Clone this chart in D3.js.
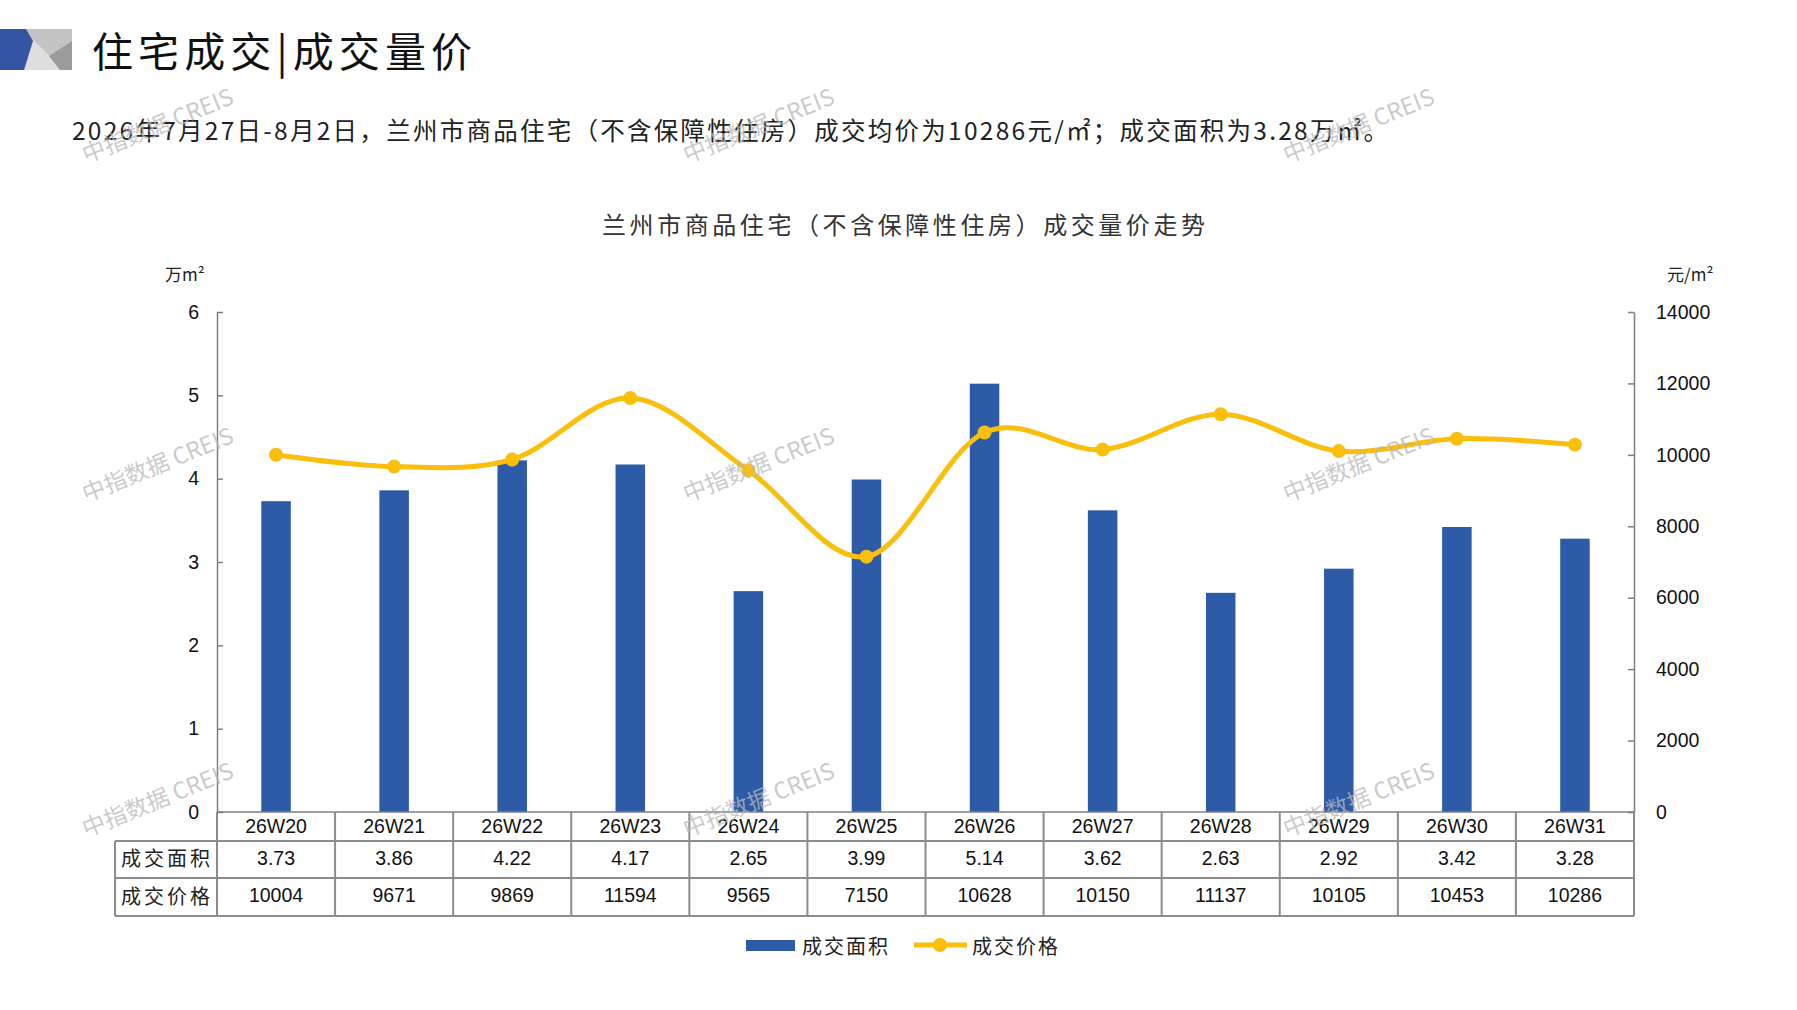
<!DOCTYPE html>
<html>
<head>
<meta charset="utf-8">
<script src="https://cdn.jsdelivr.net/npm/d3@7/dist/d3.min.js"></script>
<style>
  html, body { margin: 0; padding: 0; background: #fff; }
  svg { display: block; }
</style>
</head>
<body>
<svg id="chart" width="1797" height="1010"></svg>
<script>
// ---------- data ----------
const categories = ["26W20","26W21","26W22","26W23","26W24","26W25","26W26","26W27","26W28","26W29","26W30","26W31"];
const areaValues = [3.73, 3.86, 4.22, 4.17, 2.65, 3.99, 5.14, 3.62, 2.63, 2.92, 3.42, 3.28];
const priceValues = [10004, 9671, 9869, 11594, 9565, 7150, 10628, 10150, 11137, 10105, 10453, 10286];
const areaLabels = ["3.73","3.86","4.22","4.17","2.65","3.99","5.14","3.62","2.63","2.92","3.42","3.28"];
const leftTicks = [0, 1, 2, 3, 4, 5, 6];
const rightTicks = [0, 2000, 4000, 6000, 8000, 10000, 12000, 14000];
const seriesNames = ["成交面积", "成交价格"];
const headerTitle = "住宅成交|成交量价";
const subtitle = "2026年7月27日-8月2日，兰州市商品住宅（不含保障性住房）成交均价为10286元/㎡；成交面积为3.28万㎡。";
const chartTitle = "兰州市商品住宅（不含保障性住房）成交量价走势";
const leftUnit = "万m²";
const rightUnit = "元/m²";
const watermark = "中指数据 CREIS";

// ---------- style ----------
const BLUE = "#2E5BA8";
const GOLD = "#F9BF0C";
const AXIS = "#7f7f7f";
const GRIDC = "#8c8c8c";
const CJK = "'Noto Sans CJK SC', 'Noto Sans', sans-serif";
const NUM = "'Liberation Sans', Arial, sans-serif";

const svg = d3.select("#chart");
svg.append("rect").attr("width", 1797).attr("height", 1010).attr("fill", "#fff");

// ---------- header logo ----------
const logo = svg.append("g");
logo.append("rect").attr("x", 0).attr("y", 29).attr("width", 72).attr("height", 41).attr("fill", "#c4c4c4");
logo.append("polygon").attr("points", "22,29 64,70 22,70").attr("fill", "#dedede");
logo.append("polygon").attr("points", "49,56 72,41 72,70 60,70").attr("fill", "#9b9b9b");
logo.append("polygon").attr("points", "0,29 26,29 33,41 24,70 0,70").attr("fill", "#3554a4");

svg.append("text")
  .attr("x", 92).attr("y", 49)
  .attr("dominant-baseline", "central")
  .attr("font-family", CJK).attr("font-size", 41).attr("fill", "#111")
  .attr("textLength", 380).attr("lengthAdjust", "spacing")
  .text(headerTitle);

svg.append("text")
  .attr("x", 72).attr("y", 129)
  .attr("dominant-baseline", "central")
  .attr("font-family", CJK).attr("font-size", 24.5).attr("fill", "#222")
  .attr("textLength", 1316).attr("lengthAdjust", "spacing")
  .text(subtitle);

svg.append("text")
  .attr("x", 602).attr("y", 223)
  .attr("dominant-baseline", "central")
  .attr("font-family", CJK).attr("font-size", 24).attr("fill", "#333")
  .attr("textLength", 603).attr("lengthAdjust", "spacing")
  .text(chartTitle);

// ---------- scales ----------
const x0 = 217, x1 = 1634, yBase = 812, yTop = 312;
const x = d3.scaleBand().domain(categories).range([x0, x1]).padding(0);
const yL = d3.scaleLinear().domain([0, 6]).range([yBase, yTop]);
const yR = d3.scaleLinear().domain([0, 14000]).range([yBase, yTop]);
const bw = x.bandwidth() * 0.25;

// ---------- bars ----------
svg.append("g").selectAll("rect")
  .data(areaValues)
  .join("rect")
  .attr("x", (d, i) => x(categories[i]) + x.bandwidth() / 2 - bw / 2)
  .attr("y", d => yL(d))
  .attr("width", bw)
  .attr("height", d => yL(0) - yL(d))
  .attr("fill", BLUE);

// ---------- axes ----------
const axL = svg.append("g").attr("transform", `translate(${x0},0)`)
  .call(d3.axisLeft(yL).tickValues(leftTicks).tickSizeInner(-6).tickSizeOuter(0).tickPadding(18).tickFormat(d3.format("d")));
const axR = svg.append("g").attr("transform", `translate(${x1},0)`)
  .call(d3.axisRight(yR).tickValues(rightTicks).tickSizeInner(-6).tickSizeOuter(0).tickPadding(22).tickFormat(d3.format("d")));
[axL, axR].forEach(a => {
  a.selectAll("path.domain").attr("stroke", AXIS).attr("stroke-width", 1.5);
  a.selectAll(".tick line").attr("stroke", AXIS).attr("stroke-width", 1.5);
  a.selectAll(".tick text").attr("font-family", NUM).attr("font-size", 19.5).attr("fill", "#111");
});

svg.append("text").attr("x", 165).attr("y", 273).attr("dominant-baseline", "central")
  .attr("font-family", CJK).attr("font-size", 17).attr("fill", "#222").text(leftUnit);
svg.append("text").attr("x", 1667).attr("y", 273).attr("dominant-baseline", "central")
  .attr("font-family", CJK).attr("font-size", 17).attr("fill", "#222").text(rightUnit);

// ---------- line ----------
const line = d3.line()
  .x((d, i) => x(categories[i]) + x.bandwidth() / 2)
  .y(d => yR(d))
  .curve(d3.curveCardinal.tension(0));
svg.append("path").datum(priceValues)
  .attr("d", line).attr("fill", "none").attr("stroke", GOLD).attr("stroke-width", 5)
  .attr("stroke-linecap", "round");
svg.append("g").selectAll("circle").data(priceValues).join("circle")
  .attr("cx", (d, i) => x(categories[i]) + x.bandwidth() / 2)
  .attr("cy", d => yR(d))
  .attr("r", 7)
  .attr("fill", GOLD);

// ---------- data table ----------
const rowY = [812, 841, 878, 916];
const tLeft = 115;
const tbl = svg.append("g").attr("stroke", GRIDC).attr("stroke-width", 2);
tbl.append("line").attr("x1", x0).attr("x2", x1).attr("y1", rowY[0]).attr("y2", rowY[0]).attr("stroke", AXIS).attr("stroke-width", 1.5);
[rowY[1], rowY[2], rowY[3]].forEach(yy => {
  tbl.append("line").attr("x1", tLeft).attr("x2", x1).attr("y1", yy).attr("y2", yy);
});
tbl.append("line").attr("x1", tLeft).attr("x2", tLeft).attr("y1", rowY[1]).attr("y2", rowY[3]);
const colEdges = categories.map(c => x(c)).concat([x1]);
colEdges.forEach(xx => {
  tbl.append("line").attr("x1", xx).attr("x2", xx).attr("y1", rowY[0]).attr("y2", rowY[3]);
});

const cellText = (txt, cx, cy) => svg.append("text")
  .attr("x", cx).attr("y", cy).attr("text-anchor", "middle").attr("dominant-baseline", "central")
  .attr("font-family", NUM).attr("font-size", 19.5).attr("fill", "#111").text(txt);

categories.forEach((c, i) => {
  const cx = x(c) + x.bandwidth() / 2;
  cellText(c, cx, (rowY[0] + rowY[1]) / 2 - 1);
  cellText(areaLabels[i], cx, (rowY[1] + rowY[2]) / 2 - 2);
  cellText(String(priceValues[i]), cx, (rowY[2] + rowY[3]) / 2 - 2);
});
seriesNames.forEach((n, j) => {
  svg.append("text")
    .attr("x", tLeft + 6).attr("y", (rowY[j + 1] + rowY[j + 2]) / 2 - 2)
    .attr("dominant-baseline", "central")
    .attr("font-family", CJK).attr("font-size", 20).attr("fill", "#222")
    .attr("textLength", 89).attr("lengthAdjust", "spacing")
    .text(n);
});

// ---------- legend ----------
const lg = svg.append("g");
lg.append("rect").attr("x", 746).attr("y", 940).attr("width", 49).attr("height", 11).attr("fill", BLUE);
lg.append("text").attr("x", 802).attr("y", 945).attr("dominant-baseline", "central")
  .attr("font-family", CJK).attr("font-size", 20).attr("fill", "#222")
  .attr("textLength", 86).attr("lengthAdjust", "spacing").text(seriesNames[0]);
lg.append("line").attr("x1", 914).attr("x2", 967).attr("y1", 945).attr("y2", 945)
  .attr("stroke", GOLD).attr("stroke-width", 5);
lg.append("circle").attr("cx", 940).attr("cy", 945).attr("r", 7).attr("fill", GOLD);
lg.append("text").attr("x", 972).attr("y", 945).attr("dominant-baseline", "central")
  .attr("font-family", CJK).attr("font-size", 20).attr("fill", "#222")
  .attr("textLength", 86).attr("lengthAdjust", "spacing").text(seriesNames[1]);

// ---------- watermarks ----------
const wmX = [157, 758, 1358];
const wmY = [124, 463, 798];
const wm = svg.append("g").attr("pointer-events", "none");
wmY.forEach(wy => wmX.forEach(wx => {
  wm.append("text")
    .attr("transform", `translate(${wx},${wy}) rotate(-22)`)
    .attr("text-anchor", "middle").attr("dominant-baseline", "central")
    .attr("font-family", CJK).attr("font-size", 23).attr("fill", "#b8b8b8").attr("fill-opacity", 0.75)
    .text(watermark);
}));
</script>
</body>
</html>
